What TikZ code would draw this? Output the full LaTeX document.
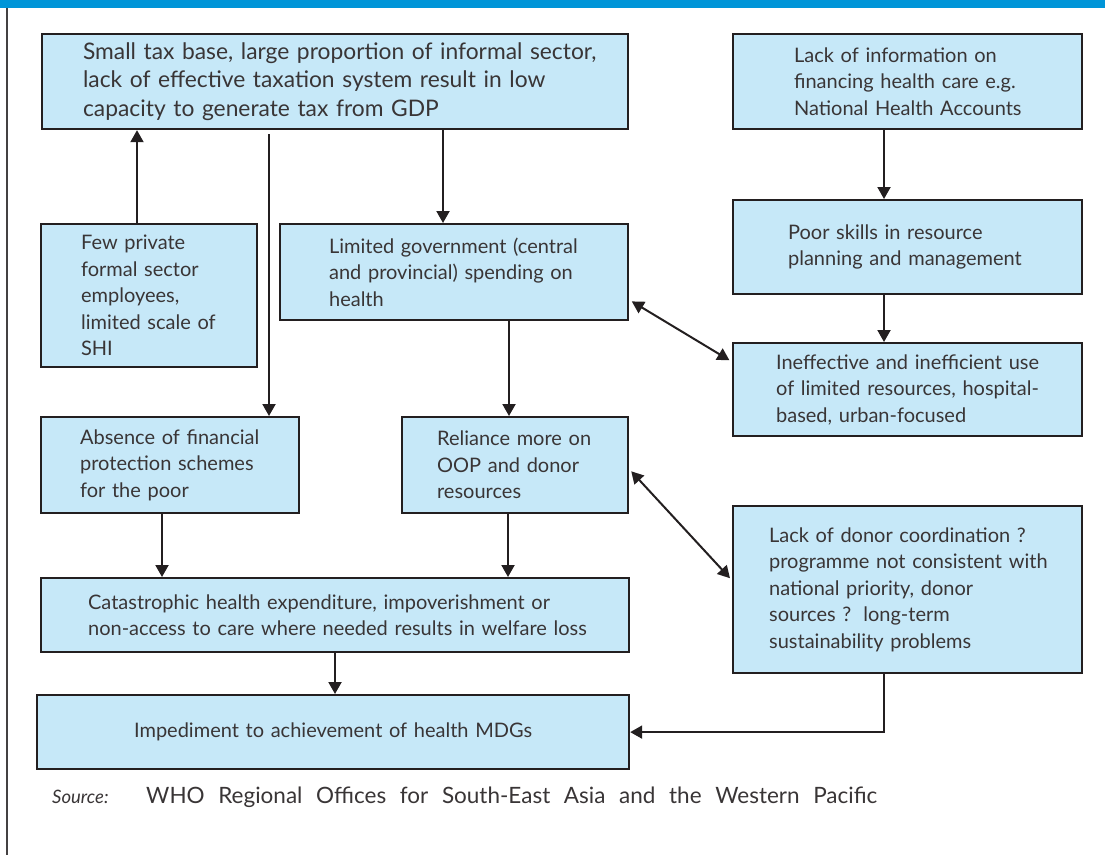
\documentclass[tikz,border=0pt]{standalone}
\usepackage{fontspec}
\setmainfont{Lato}
\usetikzlibrary{arrows.meta}
\definecolor{whobar}{HTML}{0095D8}
\definecolor{boxfill}{HTML}{C6E8F8}
\definecolor{ink}{HTML}{231F20}
\begin{document}
\begin{tikzpicture}[x=1pt, y=-1pt,
    box/.style n args={3}{draw=ink, fill=boxfill, line width=2.2pt, anchor=north west,
        inner xsep=0pt, inner ysep=0pt, align=left, text width=#1, minimum height=#2,
        font=\fontsize{20}{26.5}\selectfont, text=ink!90,
        execute at begin node={\leftskip=#3}},
    arr/.style={line width=2pt, draw=ink, -{Triangle[length=12pt,width=13pt]}},
    both/.style={line width=2pt, draw=ink, {Triangle[length=12pt,width=13pt]}-{Triangle[length=12pt,width=13pt]},
        shorten <=3pt, shorten >=3pt},
    src/.style={anchor=west, inner sep=0pt, text=ink!90, font=\fontsize{22.5}{26}\selectfont}]
    \useasboundingbox (0,0) rectangle (1105,855);
    % page frame
    \fill[whobar] (0,0) rectangle (1105,8);
    \draw[ink!85, line width=2pt] (7,8) -- (7,855);

    \node[box={586pt}{95pt}{41pt}, font=\fontsize{22.8}{28.5}\selectfont] (tax) at (41,33)
        {Small tax base, large proportion of informal sector,\\ lack of effective taxation system result in low\\ capacity to generate tax from GDP};
    \node[box={349pt}{95pt}{61pt}] (nha) at (732,33)
        {Lack of information on\\ financing health care e.g.\\ National Health Accounts};
    \node[box={216pt}{143pt}{40pt}] (few) at (40,223)
        {Few private\\ formal sector\\ employees,\\ limited scale of\\ SHI};
    \node[box={348pt}{96pt}{49pt}] (gov) at (279,223)
        {Limited government (central\\ and provincial) spending on\\ health};
    \node[box={349pt}{94pt}{55pt}] (skill) at (732,199)
        {Poor skills in resource\\ planning and management};
    \node[box={349pt}{93pt}{43pt}] (waste) at (732,342)
        {Ineffective and inefficient use\\ of limited resources, hospital-\\ based, urban-focused};
    \node[box={258pt}{96pt}{39pt}] (poor) at (40,416)
        {Absence of financial\\ protection schemes\\ for the poor};
    \node[box={226pt}{96pt}{35pt}] (oop) at (401,416)
        {Reliance more on\\ OOP and donor\\ resources};
    \node[box={349pt}{167pt}{36pt}] (donor) at (732,505)
        {Lack of donor coordination ?\\ programme not consistent with\\ national priority, donor\\ sources ?\hspace{12pt}long-term\\ sustainability problems};
    \node[box={588pt}{74pt}{47pt}] (cata) at (40,577)
        {Catastrophic health expenditure, impoverishment or\\ non-access to care where needed results in welfare loss};
    \node[box={592pt}{74pt}{0pt}] (mdg) at (36,694)
        {\hfil Impediment to achievement of health MDGs};

    \draw[arr] (few.north -| 137,0) -- (tax.south -| 137,0);
    \draw[arr] (tax.south -| 269,0) ++(0,4) -- (poor.north -| 269,0);
    \draw[arr] (tax.south -| 443,0) -- (gov.north -| 443,0);
    \draw[arr] (nha.south -| 884,0) -- (skill.north -| 884,0);
    \draw[arr] (skill.south -| 884,0) -- (waste.north -| 884,0);
    \draw[arr] (gov.south -| 509,0) -- (oop.north -| 509,0);
    \draw[both] (gov.-9) -- (waste.171);
    \draw[both] (oop.-2) -- (donor.177);
    \draw[arr] (poor.south -| 162,0) -- (cata.north -| 162,0);
    \draw[arr] (oop.south -| 508,0) -- (cata.north -| 508,0);
    \draw[arr] (cata.south -| 335,0) -- (mdg.north -| 335,0);
    \draw[arr] (donor.south -| 884,0) |- (mdg.east);

    \node[src, font=\fontsize{18.5}{24}\selectfont] (srclbl) at (52,797) {\textit{Source:}};
    \node[src] (srctxt) at (146,797)
        {\makebox[731pt][s]{WHO Regional Offices for South-East Asia and the Western Pacific}};
\end{tikzpicture}
\end{document}
